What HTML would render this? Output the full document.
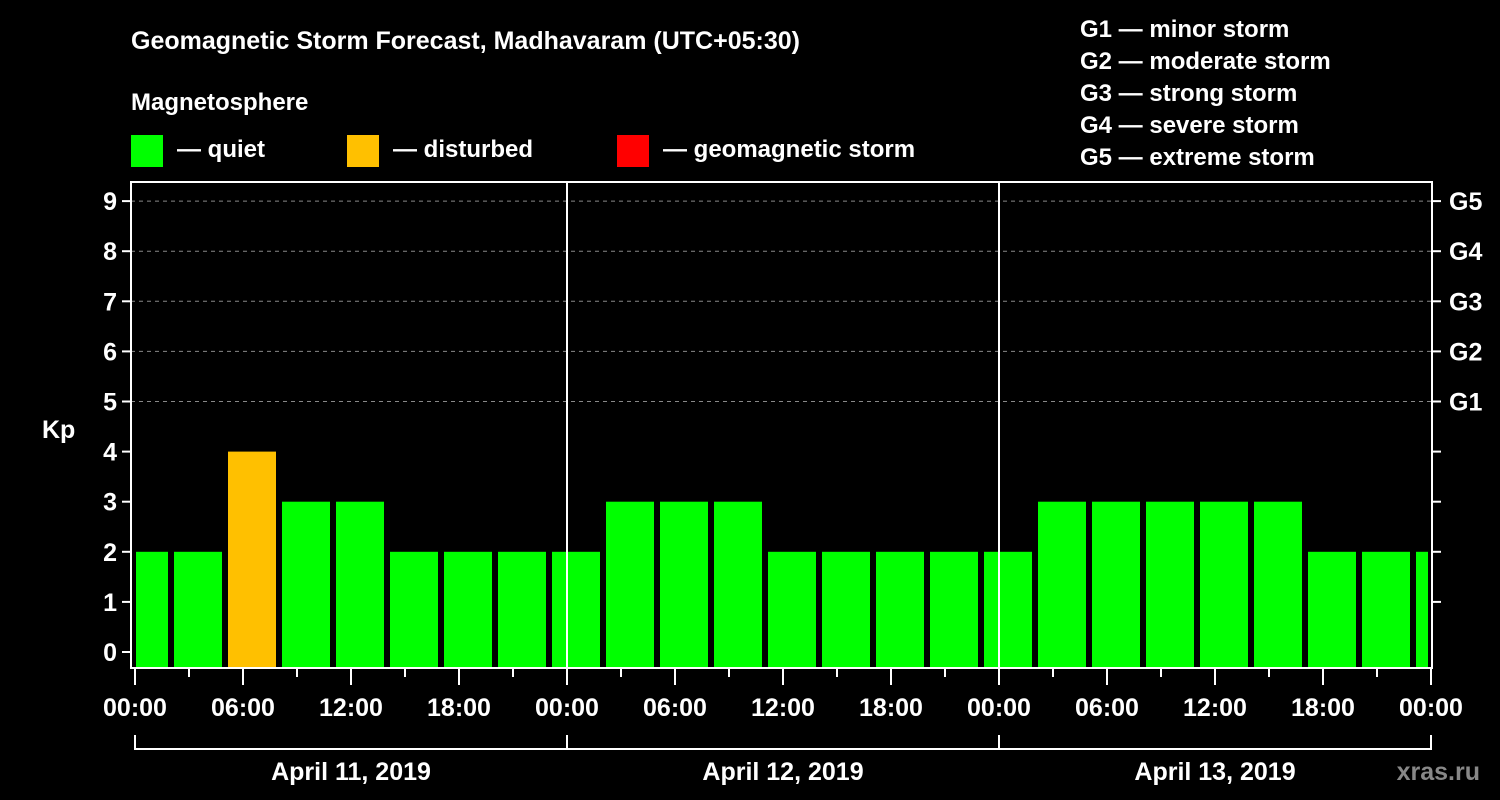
<!DOCTYPE html>
<html><head><meta charset="utf-8"><style>
html,body{margin:0;padding:0;background:#000;}
svg{display:block;font-family:"Liberation Sans",Arial,sans-serif;font-weight:bold;}
</style></head><body>
<svg id="chart" width="1500" height="800" viewBox="0 0 1500 800" xmlns="http://www.w3.org/2000/svg">
<rect width="1500" height="800" fill="#000"/>
<text x="131" y="49" fill="#fff" font-size="25">Geomagnetic Storm Forecast, Madhavaram (UTC+05:30)</text>
<text x="131" y="110" fill="#fff" font-size="24">Magnetosphere</text>
<g><rect x="131" y="135" width="32" height="32" fill="#00ff00"/><text x="177" y="157" fill="#fff" font-size="24">— quiet</text></g>
<g><rect x="347" y="135" width="32" height="32" fill="#ffc000"/><text x="393" y="157" fill="#fff" font-size="24">— disturbed</text></g>
<g><rect x="617" y="135" width="32" height="32" fill="#ff0000"/><text x="663" y="157" fill="#fff" font-size="24">— geomagnetic storm</text></g>
<g fill="#fff" font-size="24">
<text x="1080" y="37">G1 — minor storm</text>
<text x="1080" y="69">G2 — moderate storm</text>
<text x="1080" y="101">G3 — strong storm</text>
<text x="1080" y="133">G4 — severe storm</text>
<text x="1080" y="165">G5 — extreme storm</text>
</g>
<text x="42" y="438" fill="#fff" font-size="25">Kp</text>
<g id="grid"></g><g id="bars"></g><g id="axes"></g>
<text x="1480" y="780" fill="#888" font-size="25" text-anchor="end">xras.ru</text>
</svg>
<script>
const kpValues=[2,2,4,3,3,2,2,2,2,3,3,3,2,2,2,2,2,3,3,3,3,3,2,2,2];
const yTicks=[0,1,2,3,4,5,6,7,8,9];
const gLabels=["G1","G2","G3","G4","G5"];
const timeLabels=["00:00","06:00","12:00","18:00","00:00","06:00","12:00","18:00","00:00","06:00","12:00","18:00","00:00"];
const dayLabels=["April 11, 2019","April 12, 2019","April 13, 2019"];
const NS="http://www.w3.org/2000/svg";
const L=131,R=1432,T=182,B=668;
const x=h=>135+h*18;
const y=v=>652-v*50.1;
function mk(tag,attrs,parent,txt){const e=document.createElementNS(NS,tag);for(const k in attrs)e.setAttribute(k,attrs[k]);if(txt!==undefined)e.textContent=txt;parent.appendChild(e);return e;}
const grid=document.getElementById('grid'),bars=document.getElementById('bars'),axes=document.getElementById('axes');
yTicks.forEach(v=>{
 if(v>=5){const g=mk('line',{x1:L,x2:R,y1:y(v),y2:y(v),stroke:'#888','stroke-width':1,'stroke-dasharray':'4,4'},grid);
 
 }
 const t=mk('line',{x1:122,x2:L,y1:y(v),y2:y(v),stroke:'#fff','stroke-width':2},axes);
 
 
 const lb=mk('text',{x:117,y:y(v)+9,fill:'#fff','font-size':25,'text-anchor':'end'},axes,String(v));
 
 
 if(v>=1){const rt=mk('line',{x1:R,x2:1441,y1:y(v),y2:y(v),stroke:'#fff','stroke-width':2},axes);
 
 }
 if(v>=5){const gl=mk('text',{x:1449,y:y(v)+9,fill:'#fff','font-size':25},axes,gLabels[v-5]);
 
 }
});
kpValues.forEach((v,i)=>{
 const c=x(3*i+0.5);let l=c-24,r=c+24;l=Math.max(l,L+5);r=Math.min(r,R-4);
 const col=v>=5?'#ff0000':(v>=4?'#ffc000':'#00ff00');
 const b=mk('rect',{x:l,y:y(v),width:r-l,height:B-y(v),fill:col},bars);
 
 
});
[1,2].forEach(d=>{const s=mk('line',{x1:x(24*d),x2:x(24*d),y1:T,y2:B,stroke:'#fff','stroke-width':2},axes);
 
 });
const fr=mk('rect',{x:L,y:T,width:R-L,height:B-T,fill:'none',stroke:'#fff','stroke-width':2},axes);


for(let h=0;h<=72;h+=3){const major=h%6===0;
 const t=mk('line',{x1:x(h),x2:x(h),y1:B,y2:major?685:677,stroke:'#fff','stroke-width':2},axes);
 
 }
timeLabels.forEach((s,i)=>{const t=mk('text',{x:x(i*6),y:716,fill:'#fff','font-size':25,'text-anchor':'middle'},axes,s);
 
 });
dayLabels.forEach((s,d)=>{
 const p=mk('path',{d:`M${x(24*d)},735V749H${x(24*d+24)}V735`,fill:'none',stroke:'#fff','stroke-width':2},axes);
 
 
 const t=mk('text',{x:x(24*d+12),y:780,fill:'#fff','font-size':25,'text-anchor':'middle'},axes,s);
 
 
});
</script>
</body></html>
